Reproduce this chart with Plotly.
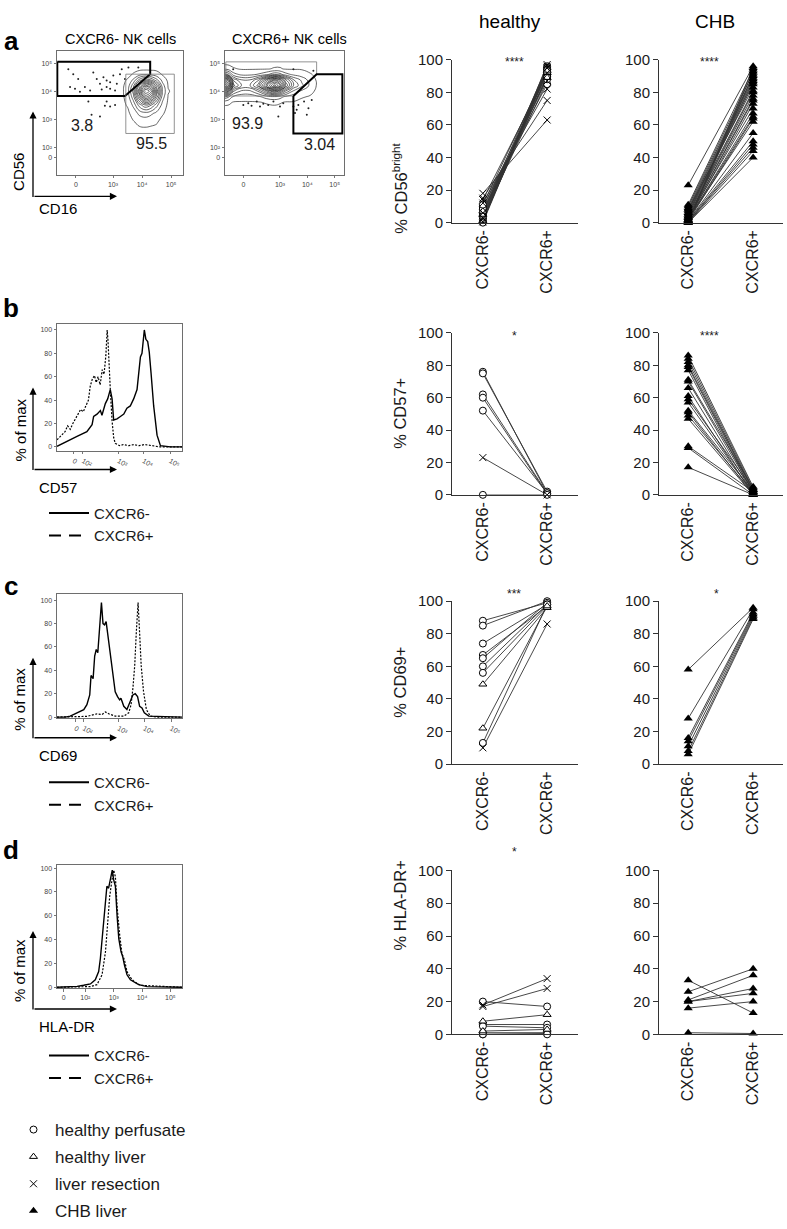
import plotly.graph_objects as go

W, H = 787, 1229
def PX(x): return x / W
def PY(y): return 1 - y / H

FONT = "Liberation Sans, Arial, sans-serif"
INK = "#1a1a1a"
LINE = "#333333"

# ---------------- data: paired dot plots ----------------
categories = ["CXCR6-", "CXCR6+"]
group_codes = ["P", "L", "R", "C"]
group_names = {"P": "healthy perfusate", "L": "healthy liver", "R": "liver resection", "C": "CHB liver"}

# a: % CD56bright
a_h_neg = [18, 15, 12, 10, 8, 6, 5, 4, 3, 2, 1, 0.5, 7, 9, 3, 2, 1, 4, 6, 0, 14, 11]
a_h_pos = [63, 75, 82, 85, 88, 90, 92, 93, 94, 95, 96, 97, 89, 91, 87, 90, 93, 95, 96, 94, 92, 94]
a_h_grp = ["R", "R", "R", "P", "P", "P", "L", "P", "P", "R", "P", "R", "L", "P", "R", "P", "L", "P", "R", "P", "R", "P"]
a_c_neg = [23, 11, 10, 9, 8, 7, 6, 5, 5, 4, 4, 3, 3, 2, 2, 2, 1, 1, 1, 0.5, 0.5, 0, 0, 0, 6, 8, 3, 2, 1, 0]
a_c_pos = [96, 94, 92, 90, 89, 88, 86, 85, 81, 80, 78, 76, 75, 73, 67, 65, 64, 55, 50, 48, 46, 44, 40, 91, 87, 83, 70, 62, 93, 95]

# b: % CD57+
b_h_neg = [76, 75, 62, 60, 52, 23, 0]
b_h_pos = [1, 2, 1, 0.5, 1, 0, 0]
b_h_grp = ["P", "P", "P", "P", "P", "R", "P"]
b_c_neg = [86, 84, 82, 80, 79, 77, 71, 70, 66, 61, 59, 57, 52, 51, 49, 47, 30, 29, 17]
b_c_pos = [5, 4, 3, 3, 2, 1, 4, 2, 1, 0, 3, 1, 2, 0, 1, 0, 2, 0, 0]

# c: % CD69+
c_h_neg = [88, 85, 74, 67, 65, 60, 56, 49, 22, 13, 10]
c_h_pos = [99, 100, 98, 97, 99, 98, 97, 96, 97, 98, 86]
c_h_grp = ["P", "P", "P", "P", "P", "P", "P", "L", "L", "P", "R"]
c_c_neg = [58, 28, 16, 14, 11, 8, 6]
c_c_pos = [96, 95, 93, 92, 91, 90, 89]

# d: % HLA-DR+
d_h_neg = [18, 17, 20, 8, 6, 5, 2, 1, 0, 0]
d_h_pos = [34, 28, 17, 12, 6, 4, 3, 1, 0.5, 0]
d_h_grp = ["R", "R", "P", "L", "P", "P", "L", "P", "P", "P"]
d_c_neg = [33, 26, 21, 20, 20, 16, 1]
d_c_pos = [13, 40, 36, 28, 25, 20, 0.5]

row_titles = ["% CD56<sup>bright</sup>", "% CD57+", "% CD69+", "% HLA-DR+"]
row_stars_healthy = ["****", "*", "***", "*"]
row_stars_chb = ["****", "****", "*", ""]
col_titles = ["healthy", "CHB"]

# ---------------- data: histograms (x in decade units, y in % of max) ----------------
cd57_neg_x = [0.64, 1.03, 1.41, 1.79, 1.99, 2.05, 2.18, 2.31, 2.37, 2.5, 2.59, 2.69, 2.76, 2.82, 2.95, 3.08, 3.21, 3.33, 3.46, 3.59, 3.65, 3.72, 3.85, 3.91, 4.0, 4.06, 4.13, 4.19, 4.26, 4.36, 4.49, 4.62, 5.0, 5.45]
cd57_neg_y = [0.5, 5, 9, 13, 19, 26, 28, 31, 27, 37, 41, 49, 41, 23, 24, 26, 28, 33, 35, 41, 44, 49, 77, 80, 100, 92, 90, 81, 63, 35, 10, 1, 0, 0]
cd57_pos_x = [0.64, 0.8, 0.95, 1.05, 1.15, 1.25, 1.35, 1.45, 1.55, 1.65, 1.75, 1.85, 1.92, 2.0, 2.08, 2.15, 2.22, 2.3, 2.38, 2.45, 2.52, 2.57, 2.6, 2.64, 2.7, 2.76, 2.82, 2.88, 2.95, 3.05, 3.2, 3.4, 3.6, 3.8, 4.0, 4.3, 4.6, 5.0, 5.45]
cd57_pos_y = [6, 10, 13, 18, 15, 20, 24, 28, 32, 30, 35, 40, 52, 58, 61, 55, 60, 53, 66, 62, 78, 100, 92, 70, 45, 22, 8, 3, 2, 1, 2, 1, 2, 1, 2, 1, 0, 0, 0]

cd69_neg_x = [0.64, 0.96, 1.15, 1.41, 1.67, 1.79, 1.90, 1.95, 2.03, 2.09, 2.15, 2.21, 2.28, 2.35, 2.41, 2.47, 2.53, 2.59, 2.69, 2.79, 2.88, 2.97, 3.05, 3.10, 3.21, 3.33, 3.46, 3.56, 3.65, 3.74, 3.82, 3.91, 4.00, 4.17, 5.45]
cd69_neg_y = [0, 0, 0.8, 3.6, 6.4, 10.6, 18.9, 35.6, 32.8, 52.2, 57.8, 55, 80, 98, 80, 78.9, 81.7, 71.7, 57.8, 41.1, 21.7, 17.5, 14.7, 16.1, 9.2, 6.4, 13.3, 18.9, 20, 17.5, 9.2, 7.8, 3.6, 0.8, 0]
cd69_pos_x = [0.64, 1.79, 2.18, 2.37, 2.50, 2.63, 2.88, 3.21, 3.40, 3.49, 3.56, 3.63, 3.69, 3.76, 3.82, 3.88, 3.97, 4.08, 4.23, 4.49, 5.45]
cd69_pos_y = [0, 0.6, 2.8, 2.2, 4.4, 2.8, 0.8, 0.8, 3.6, 10.6, 24.4, 43.9, 71.7, 98, 71.7, 43.9, 21.7, 6.4, 0.8, 0, 0]

hladr_neg_x = [1.0, 1.71, 1.94, 2.18, 2.35, 2.47, 2.53, 2.62, 2.71, 2.76, 2.82, 2.88, 2.92, 2.95, 3.0, 3.06, 3.12, 3.18, 3.26, 3.32, 3.38, 3.47, 3.59, 3.71, 3.88, 4.18, 5.41]
hladr_neg_y = [0, 0.8, 1.7, 2.8, 6.3, 13.2, 24.2, 46.3, 73.8, 84.8, 83.2, 90.1, 95.6, 98.3, 90.1, 84.8, 60.1, 40.8, 29.8, 25.6, 18.7, 10.5, 6.3, 4.4, 2.2, 0.6, 0]
hladr_pos_x = [1.0, 2.18, 2.41, 2.59, 2.71, 2.79, 2.86, 2.94, 3.0, 3.06, 3.12, 3.20, 3.29, 3.38, 3.47, 3.59, 3.71, 3.94, 5.41]
hladr_pos_y = [0, 0.6, 2.2, 10.5, 29.8, 54.5, 76.6, 90.1, 98.3, 92.8, 68.0, 46.3, 28.4, 22.9, 13.2, 8.3, 5.0, 1.7, 0]

# ---------------- data: flow plots (CD16 / CD56, decade units) ----------------
neg_grid_x = [3.3, 3.5, 3.7, 3.9, 4.1, 4.3, 4.5, 4.7, 4.9, 5.1]
neg_grid_y = [2.6, 2.9, 3.2, 3.5, 3.8, 4.0, 4.2, 4.4, 4.6, 4.8]
neg_density = [
    [0, 0, 0, 0, 0, 0, 0, 0, 0, 0],
    [0, 0, 1, 3, 4, 3, 2, 0, 0, 0],
    [0, 0, 4, 10, 12, 10, 6, 2, 0, 0],
    [0, 2, 10, 25, 35, 30, 18, 6, 0, 0],
    [0, 4, 20, 50, 80, 70, 40, 12, 1, 0],
    [0, 5, 25, 65, 100, 90, 50, 15, 2, 0],
    [0, 4, 20, 50, 75, 65, 40, 12, 1, 0],
    [0, 2, 10, 25, 35, 30, 18, 6, 0, 0],
    [0, 0, 2, 5, 7, 6, 4, 1, 0, 0],
    [0, 0, 0, 0, 0, 0, 0, 0, 0, 0],
]
neg_dots_x = [1.46, 1.63, 1.80, 1.69, 1.52, 2.32, 2.44, 2.55, 2.67, 2.78, 2.90, 3.01, 3.13, 3.24, 3.30, 3.41, 3.53, 3.87, 2.90, 2.78, 2.21, 2.03, 2.15, 2.78, 2.90, 3.07, 2.72, 2.55, 2.26, 1.86, 3.07, 2.61]
neg_dots_y = [4.79, 4.61, 4.44, 4.09, 4.15, 4.67, 4.44, 4.27, 4.50, 4.38, 4.32, 4.56, 4.27, 4.61, 4.79, 4.44, 4.85, 4.85, 4.09, 4.15, 4.03, 4.15, 3.63, 3.63, 3.45, 3.51, 3.48, 3.10, 3.16, 3.98, 4.03, 4.06]
neg_gate_bright_x = [1.08, 4.28, 4.28, 3.41, 1.08, 1.08]
neg_gate_bright_y = [5.05, 5.05, 4.61, 3.83, 3.83, 5.05]
neg_gate_dim_x = [3.44, 5.11, 5.11, 3.44, 3.44]
neg_gate_dim_y = [4.61, 4.61, 2.49, 2.49, 4.61]
neg_pct = ["3.8", "95.5"]
neg_pct_x = [1.93, 4.34]
neg_pct_y = [2.79, 2.13]

pos_grid_x = [0.9, 1.1, 1.3, 1.6, 1.9, 2.2, 2.5, 2.8, 3.0, 3.2, 3.5, 3.8, 4.1, 4.4, 4.6]
pos_grid_y = [3.4, 3.6, 3.8, 4.0, 4.2, 4.4, 4.6, 4.8, 5.0]
pos_density = [
    [0, 0, 0, 0, 0, 0, 0, 0, 0, 0, 0, 0, 0, 0, 0],
    [3, 3, 1, 1, 1, 1, 2, 3, 2, 1, 1, 0, 0, 0, 0],
    [20, 15, 6, 4, 4, 6, 10, 12, 10, 6, 4, 2, 1, 0, 0],
    [60, 50, 20, 12, 12, 20, 35, 50, 40, 25, 12, 6, 3, 0, 0],
    [100, 90, 40, 25, 25, 40, 70, 95, 80, 50, 25, 15, 6, 0, 0],
    [80, 70, 30, 20, 20, 30, 50, 70, 60, 40, 20, 12, 5, 0, 0],
    [30, 25, 10, 6, 6, 8, 12, 18, 16, 10, 6, 4, 2, 0, 0],
    [5, 5, 2, 1, 1, 1, 1, 2, 2, 1, 1, 1, 0, 0, 0],
    [0, 0, 0, 0, 0, 0, 0, 0, 0, 0, 0, 0, 0, 0, 0],
]
pos_dots_x = [1.66, 1.84, 1.96, 2.15, 2.27, 2.39, 2.57, 2.76, 2.94, 3.00, 3.12, 3.49, 3.61, 3.55, 3.67, 3.88, 4.04, 3.98, 4.16, 1.29, 3.49, 4.22]
pos_dots_y = [3.51, 3.57, 3.48, 3.63, 3.45, 3.55, 3.51, 3.63, 3.10, 3.45, 3.57, 3.45, 3.34, 3.22, 3.51, 3.63, 3.39, 3.16, 3.69, 4.79, 4.79, 4.73]
pos_gate_bright_x = [1.02, 4.34, 4.34, 3.49, 1.02, 1.02]
pos_gate_bright_y = [5.05, 5.05, 4.61, 3.83, 3.83, 5.05]
pos_gate_dim_x = [3.49, 4.34, 5.28, 5.28, 3.49, 3.49]
pos_gate_dim_y = [3.83, 4.61, 4.61, 2.49, 2.49, 3.83]
pos_pct = ["93.9", "3.04"]
pos_pct_x = [1.83, 4.43]
pos_pct_y = [2.83, 2.09]

fig = go.Figure()
layout_axes = {}
annotations = []

def axname(n, kind):
    return kind + ("" if n == 1 else str(n))

def add_axes(n, box, xcfg, ycfg):
    x0, y0, x1, y1 = box  # pixel box (left, top, right, bottom)
    xc = dict(domain=[PX(x0), PX(x1)], anchor=axname(n, "y"), showgrid=False, zeroline=False)
    yc = dict(domain=[PY(y1), PY(y0)], anchor=axname(n, "x"), showgrid=False, zeroline=False)
    xc.update(xcfg)
    yc.update(ycfg)
    layout_axes[axname(n, "xaxis")] = xc
    layout_axes[axname(n, "yaxis")] = yc

flow_axis = dict(showline=True, mirror=True, linecolor="#6e6e6e", linewidth=1, ticks="outside",
                 ticklen=2.5, tickwidth=0.8, tickcolor="#555", tickfont=dict(size=7, color="#444", family=FONT))
sup = {2: "10²", 3: "10³", 4: "10⁴", 5: "10⁵"}

# ---------- flow plot 1 (CXCR6- NK) ----------
add_axes(1, (57, 43, 183, 170),
         dict(flow_axis, range=[1.07, 5.41], tickvals=[1.72, 3, 4, 5], ticktext=["0", sup[3], sup[4], sup[5]]),
         dict(flow_axis, range=[1.01, 5.44], tickvals=[1.64, 2, 3, 4, 5], ticktext=["0", sup[2], sup[3], sup[4], sup[5]]))
# ---------- flow plot 2 (CXCR6+ NK) ----------
add_axes(2, (225, 43, 344, 170),
         dict(flow_axis, range=[0.99, 5.34], tickvals=[1.66, 3, 4, 5], ticktext=["0", sup[3], sup[4], sup[5]]),
         dict(flow_axis, range=[1.01, 5.44], tickvals=[1.64, 2, 3, 4, 5], ticktext=["0", sup[2], sup[3], sup[4], sup[5]]))

def add_flow(n, gx, gy, z, start, size, dx, dy, gbx, gby, gdx, gdy, bright_thick, pct, px_, py_):
    xa, ya = axname(n, "x"), axname(n, "y")
    fig.add_trace(go.Contour(x=gx, y=gy, z=z, xaxis=xa, yaxis=ya, showscale=False,
                             contours=dict(coloring="lines", start=start, end=100, size=size),
                             colorscale=[[0, "black"], [1, "black"]], line=dict(width=0.6, smoothing=1.3),
                             hoverinfo="skip", showlegend=False))
    fig.add_trace(go.Scatter(x=dx, y=dy, xaxis=xa, yaxis=ya, mode="markers",
                             marker=dict(size=2, color="#222"), hoverinfo="skip", showlegend=False))
    fig.add_trace(go.Scatter(x=gbx, y=gby, xaxis=xa, yaxis=ya, mode="lines",
                             line=dict(color="black" if bright_thick else "#777", width=2 if bright_thick else 0.8),
                             hoverinfo="skip", showlegend=False))
    fig.add_trace(go.Scatter(x=gdx, y=gdy, xaxis=xa, yaxis=ya, mode="lines",
                             line=dict(color="#777" if bright_thick else "black", width=0.8 if bright_thick else 2),
                             hoverinfo="skip", showlegend=False))
    for t, x, y in zip(pct, px_, py_):
        annotations.append(dict(x=x, y=y, xref=xa, yref=ya, text=t, showarrow=False,
                                font=dict(size=16, color=INK, family=FONT)))

add_flow(1, neg_grid_x, neg_grid_y, neg_density, 1.5, 7, neg_dots_x, neg_dots_y,
         neg_gate_bright_x, neg_gate_bright_y, neg_gate_dim_x, neg_gate_dim_y, True, neg_pct, neg_pct_x, neg_pct_y)
add_flow(2, pos_grid_x, pos_grid_y, pos_density, 1.5, 6, pos_dots_x, pos_dots_y,
         pos_gate_bright_x, pos_gate_bright_y, pos_gate_dim_x, pos_gate_dim_y, False, pos_pct, pos_pct_x, pos_pct_y)

# ---------- histograms ----------
hist_specs = [
    (5, (57, 323, 182, 453), [0.64, 5.45], [1.28, 1.64, 3.01, 3.97, 5.0], ["0", sup[2], sup[3], sup[4], sup[5]], [-3.5, 105],
     (cd57_neg_x, cd57_neg_y), (cd57_pos_x, cd57_pos_y)),
    (8, (57, 600, 182, 727), [0.64, 5.45], [1.35, 1.67, 3.01, 4.0, 5.03], ["0", sup[2], sup[3], sup[4], sup[5]], [-1, 105],
     (cd69_neg_x, cd69_neg_y), (cd69_pos_x, cd69_pos_y)),
    (11, (57, 877, 182, 1004), [1.0, 5.41], [1.24, 2.0, 3.0, 4.0, 5.0], ["0", sup[2], sup[3], sup[4], sup[5]], [-1, 103],
     (hladr_neg_x, hladr_neg_y), (hladr_pos_x, hladr_pos_y)),
]
legend_names = {5: "legend2", 8: "legend3", 11: "legend4"}
for n, box, xr, tv, tt, yr, neg, pos in hist_specs:
    add_axes(n, box, dict(flow_axis, range=xr, tickvals=tv, ticktext=tt),
             dict(flow_axis, range=yr, tickvals=[0, 20, 40, 60, 80, 100]))
    xa, ya = axname(n, "x"), axname(n, "y")
    fig.add_trace(go.Scatter(x=pos[0], y=pos[1], xaxis=xa, yaxis=ya, mode="lines",
                             line=dict(color="black", width=1.2, dash="2px,1.5px"), hoverinfo="skip", showlegend=False))
    fig.add_trace(go.Scatter(x=neg[0], y=neg[1], xaxis=xa, yaxis=ya, mode="lines",
                             line=dict(color="black", width=1.4), hoverinfo="skip", showlegend=False))
    # legend keys
    fig.add_trace(go.Scatter(x=[None], y=[None], xaxis=xa, yaxis=ya, mode="lines", name=categories[0],
                             line=dict(color="black", width=2), legend=legend_names[n]))
    fig.add_trace(go.Scatter(x=[None], y=[None], xaxis=xa, yaxis=ya, mode="lines", name=categories[1],
                             line=dict(color="black", width=2, dash="12px,8px"), legend=legend_names[n]))

# ---------- paired dot plots ----------
marker_style = {
    "P": dict(symbol="circle", size=7, color="white", line=dict(color="black", width=1)),
    "L": dict(symbol="triangle-up", size=7, color="white", line=dict(color="black", width=1)),
    "R": dict(symbol="x-thin-open", size=7, color="black", line=dict(color="black", width=1)),
    "C": dict(symbol="triangle-up", size=8, color="black", line=dict(color="black", width=0)),
}
shown = set()

dot_y = dict(range=[0, 100], tickvals=[0, 20, 40, 60, 80, 100], showline=True, linecolor=LINE, linewidth=1,
             ticks="outside", ticklen=5, tickcolor=LINE, tickfont=dict(size=15, color=INK, family=FONT))
def dot_x(rng):
    return dict(range=rng, tickvals=[0, 1], ticktext=categories, tickangle=-90, showline=True, linecolor=LINE,
                linewidth=1, ticks="", tickfont=dict(size=16, color=INK, family=FONT))

rows = [
    ((52, 219), (a_h_neg, a_h_pos, a_h_grp), (a_c_neg, a_c_pos), 42),
    ((332, 498), (b_h_neg, b_h_pos, b_h_grp), (b_c_neg, b_c_pos), 323),
    ((607, 774), (c_h_neg, c_h_pos, c_h_grp), (c_c_neg, c_c_pos), 597),
    ((883, 1051), (d_h_neg, d_h_pos, d_h_grp), (d_c_neg, d_c_pos), 870),
]
axis_n = {0: (3, 4), 1: (6, 7), 2: (9, 10), 3: (12, 13)}

def add_pairs(n, neg, pos, grp):
    xa, ya = axname(n, "x"), axname(n, "y")
    xs, ys = [], []
    for a, b in zip(neg, pos):
        xs += [0, 1, None]
        ys += [a, b, None]
    fig.add_trace(go.Scatter(x=xs, y=ys, xaxis=xa, yaxis=ya, mode="lines", line=dict(color=LINE, width=0.9),
                             hoverinfo="skip", showlegend=False, cliponaxis=False))
    for g in group_codes:
        idx = [i for i, gg in enumerate(grp) if gg == g]
        if not idx:
            continue
        x = [0] * len(idx) + [1] * len(idx)
        y = [neg[i] for i in idx] + [pos[i] for i in idx]
        fig.add_trace(go.Scatter(x=x, y=y, xaxis=xa, yaxis=ya, mode="markers", marker=marker_style[g],
                                 name=group_names[g], legendgroup=g, legend="legend",
                                 legendrank=group_codes.index(g) + 1,
                                 showlegend=g not in shown, cliponaxis=False))
        shown.add(g)

for r, ((top, bot), hdata, cdata, star_y) in enumerate(rows):
    nh, nc = axis_n[r]
    add_axes(nh, (452, top, 578, bot), dot_x([-0.48, 1.48]), dict(dot_y))
    add_axes(nc, (659, top, 783, bot), dot_x([-0.45, 1.46]), dict(dot_y))
    add_pairs(nh, hdata[0], hdata[1], hdata[2])
    add_pairs(nc, cdata[0], cdata[1], ["C"] * len(cdata[0]))
    annotations.append(dict(x=PX(400), y=PY((top + bot) / 2), xref="paper", yref="paper", text=row_titles[r],
                            textangle=-90, showarrow=False, font=dict(size=16.5, color=INK, family=FONT)))
    for xc, s in ((514, row_stars_healthy[r]), (721, row_stars_chb[r])):
        if s:
            annotations.append(dict(x=PX(xc), y=PY(star_y + 3), xref="paper", yref="paper", text=s,
                                    showarrow=False, font=dict(size=12, color=INK, family=FONT)))

# ---------- texts ----------
def txt(x, y, s, size, bold=False, angle=0, xanchor="center"):
    annotations.append(dict(x=PX(x), y=PY(y), xref="paper", yref="paper", text=("<b>%s</b>" % s) if bold else s,
                            textangle=angle, showarrow=False, xanchor=xanchor, yanchor="middle",
                            font=dict(size=size, color="black", family=FONT)))

txt(11, 33, "a", 26, bold=True)
txt(11, 306, "b", 26, bold=True)
txt(11, 591, "c", 26, bold=True)
txt(11, 862, "d", 26, bold=True)
txt(120, 31, "CXCR6- NK cells", 14.5)
txt(289, 31, "CXCR6+ NK cells", 14.5)
txt(510, 13, col_titles[0], 19)
txt(715, 13, col_titles[1], 19)
txt(19, 167, "CD56", 15, angle=-90)
txt(37, 205, "CD16", 15, xanchor="left")
txt(20, 432, "% of max", 15, angle=-90)
txt(37, 490, "CD57", 15, xanchor="left")
txt(20, 708, "% of max", 15, angle=-90)
txt(37, 765, "CD69", 15, xanchor="left")
txt(20, 986, "% of max", 15, angle=-90)
txt(37, 1043, "HLA-DR", 15, xanchor="left")

for head, tail in [((33, 105), (33, 192)), ((117, 192), (33, 192)),
                   ((33, 388), (33, 472)), ((117, 472), (33, 472)),
                   ((33, 665), (33, 747)), ((117, 747), (33, 747)),
                   ((33, 945), (33, 1025)), ((117, 1025), (33, 1025))]:
    annotations.append(dict(x=PX(head[0]), y=PY(head[1]), xref="paper", yref="paper", text="",
                            showarrow=True, ax=tail[0] - head[0], ay=tail[1] - head[1], axref="pixel", ayref="pixel",
                            arrowhead=2, arrowsize=1.1, arrowwidth=1.3, arrowcolor="black", standoff=0, startstandoff=0))

line_legend = dict(bgcolor="rgba(0,0,0,0)", font=dict(size=15, color=INK, family=FONT), itemwidth=40,
                   xanchor="left", yanchor="top", tracegroupgap=0)
fig.update_layout(
    width=W, height=H, margin=dict(l=0, r=0, t=0, b=0),
    paper_bgcolor="white", plot_bgcolor="white",
    font=dict(family=FONT, color=INK),
    annotations=annotations,
    legend=dict(x=PX(12), y=PY(1131), xanchor="left", yanchor="top", bgcolor="rgba(0,0,0,0)",
                font=dict(size=17, color=INK, family=FONT), traceorder="grouped", tracegroupgap=2, itemwidth=33),
    legend2=dict(line_legend, x=PX(44), y=PY(500)),
    legend3=dict(line_legend, x=PX(44), y=PY(776)),
    legend4=dict(line_legend, x=PX(44), y=PY(1056)),
    **layout_axes,
)
fig.write_html("out.html", config={"displayModeBar": False, "staticPlot": True},
               post_script="document.body.style.margin='0';document.body.style.padding='0';"
                           "document.body.style.overflow='hidden';")
